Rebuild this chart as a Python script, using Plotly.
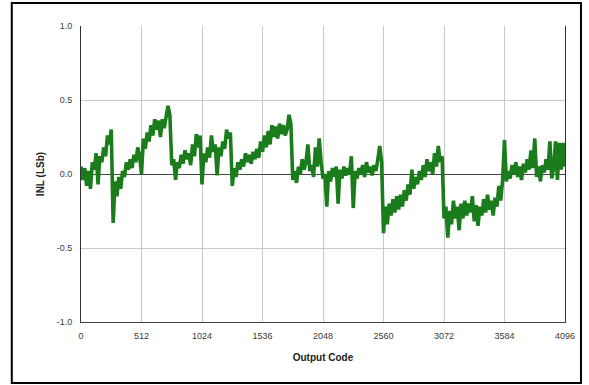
import plotly.graph_objects as go

# INL measurement, one reading every 16 output codes
codes = list(range(0, 4097, 16))
inl = [
    0.05, -0.04, 0.04, -0.08, 0.02, -0.10, 0.08, 0.03, 0.14, -0.07,
    0.12, 0.08, 0.18, 0.12, 0.26, 0.20, 0.30, -0.33, -0.05, -0.15,
    -0.02, -0.10, 0.02, -0.02, 0.08, 0.03, 0.10, 0.04, 0.13, 0.08,
    0.18, 0.12, 0.00, 0.24, 0.17, 0.28, 0.22, 0.33, 0.26, 0.37,
    0.30, 0.36, 0.25, 0.37, 0.31, 0.40, 0.46, 0.40, 0.06, 0.10,
    -0.04, 0.08, 0.04, 0.13, 0.07, 0.16, 0.10, 0.14, 0.06, 0.20,
    0.12, 0.27, 0.18, 0.26, -0.07, 0.14, 0.08, 0.18, 0.11, 0.26,
    0.15, 0.20, -0.01, 0.18, 0.12, 0.22, 0.17, 0.30, 0.24, 0.28,
    -0.08, 0.04, -0.02, 0.08, 0.03, 0.10, 0.05, 0.14, 0.08, 0.13,
    0.07, 0.15, 0.10, 0.17, 0.11, 0.22, 0.15, 0.26, 0.18, 0.29,
    0.20, 0.33, 0.25, 0.32, 0.24, 0.34, 0.27, 0.33, 0.26, 0.30,
    0.40, 0.34, -0.04, 0.02, -0.06, 0.05, 0.00, 0.10, 0.03, 0.08,
    0.20, 0.02, 0.06, -0.02, 0.18, 0.05, 0.24, 0.08, -0.03, 0.00,
    -0.22, 0.02, -0.05, 0.04, -0.02, 0.05, -0.20, 0.03, -0.03, 0.05,
    -0.01, 0.04, 0.00, 0.12, -0.23, 0.02, -0.03, 0.04, 0.00, 0.06,
    -0.02, 0.08, 0.01, 0.05, -0.01, 0.06, 0.02, 0.10, 0.19, 0.08,
    -0.40, -0.22, -0.34, -0.20, -0.28, -0.17, -0.26, -0.15, -0.24, -0.14,
    -0.22, -0.11, -0.18, -0.07, -0.14, 0.03, -0.10, -0.02, -0.07, 0.02,
    -0.04, 0.06, -0.02, 0.10, 0.02, 0.08, 0.00, 0.14, 0.05, 0.19,
    0.08, 0.12, -0.30, -0.22, -0.43, -0.25, -0.34, -0.18, -0.30, -0.22,
    -0.38, -0.20, -0.30, -0.18, -0.28, -0.20, -0.26, -0.15, -0.32, -0.21,
    -0.35, -0.22, -0.28, -0.17, -0.26, -0.14, -0.24, -0.18, -0.28, -0.16,
    -0.22, -0.08, -0.18, -0.04, 0.23, -0.05, 0.02, -0.03, 0.06, 0.00,
    0.08, -0.02, 0.05, -0.04, 0.07, 0.01, 0.10, 0.03, 0.16, 0.04,
    0.24, -0.02, 0.05, -0.05, 0.06, 0.01, 0.10, 0.03, 0.22, -0.03,
    0.04, 0.22, -0.04, 0.21, 0.03, 0.21, 0.05,
]

x_ticks = [0, 512, 1024, 1536, 2048, 2560, 3072, 3584, 4096]
y_ticks = [-1.0, -0.5, 0.0, 0.5, 1.0]

font = dict(family="Liberation Sans, Arial, sans-serif", size=9, color="#3a3a3a")

fig = go.Figure(
    go.Scatter(
        x=codes, y=inl, mode="lines",
        line=dict(color="#1a7c1a", width=3.6),
        hoverinfo="skip",
    )
)

fig.update_layout(
    width=589, height=385,
    margin=dict(l=81, r=24, t=26, b=63),
    paper_bgcolor="white", plot_bgcolor="white",
    font=font, showlegend=False,
    shapes=[
        dict(type="rect", xref="paper", yref="paper",
             x0=-0.143, x1=1.033, y0=-0.206, y1=1.078,
             line=dict(color="black", width=2), layer="above"),
    ],
)

fig.update_xaxes(
    range=[0, 4096], tickvals=x_ticks, ticktext=[str(t) for t in x_ticks],
    showgrid=True, gridcolor="#c8c8c8", gridwidth=1,
    showline=True, linecolor="#444444", linewidth=1,
    ticks="outside", ticklen=5, tickcolor="rgba(0,0,0,0)",
    zeroline=False,
    title=dict(text="<b>Output Code</b>", standoff=14,
               font=dict(family=font["family"], size=10, color="#222222")),
)

fig.update_yaxes(
    range=[-1.0, 1.0], tickvals=y_ticks, ticktext=[f"{t:.1f}" for t in y_ticks],
    showgrid=True, gridcolor="#c8c8c8", gridwidth=1,
    showline=True, linecolor="#333333", linewidth=1, mirror=True,
    ticks="outside", ticklen=6, tickcolor="rgba(0,0,0,0)",
    zeroline=True, zerolinecolor="#444444", zerolinewidth=1,
    title=dict(text="<b>INL (LSb)</b>", standoff=10,
               font=dict(family=font["family"], size=10, color="#222222")),
)

fig.write_html("out.html")
